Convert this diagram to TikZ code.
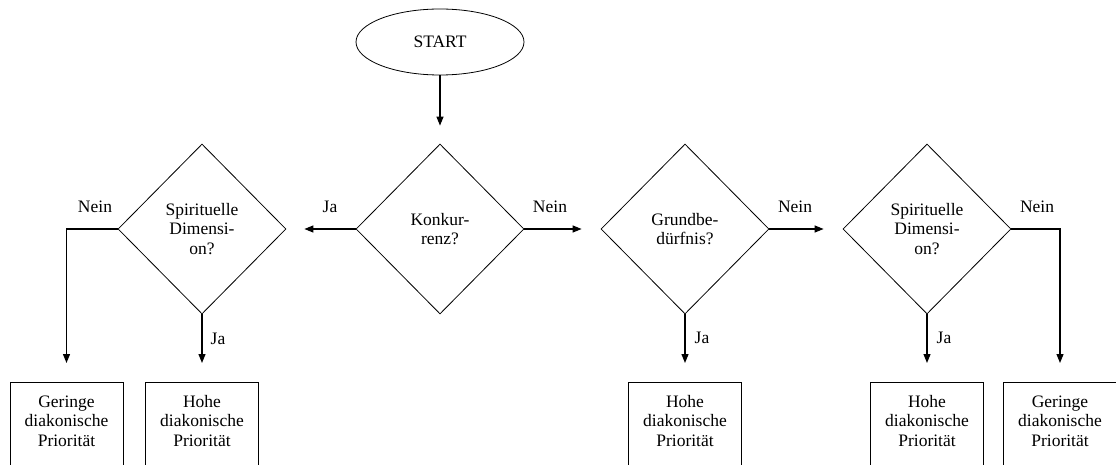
\documentclass[tikz,border=0pt]{standalone}
\usepackage{fontspec}
\setmainfont{Liberation Serif}
\usetikzlibrary{arrows.meta,shapes.geometric}

\newcommand{\flowfont}{\fontsize{17.5}{19.5}\selectfont}

\tikzset{
  startnode/.style={ellipse, draw, line width=0.8pt, minimum width=168pt, minimum height=66pt, inner sep=0pt, font=\flowfont},
  decision/.style={diamond, draw, line width=0.8pt, minimum width=168pt, minimum height=170pt, inner sep=0pt, align=center, font=\flowfont},
  prio/.style={rectangle, draw, line width=0.8pt, anchor=north, minimum width=113pt, text width=108pt, align=center, inner xsep=2pt, inner ysep=13pt, text height=12pt, text depth=100pt, font=\flowfont},
  arr/.style={-{Triangle[length=9pt,width=7pt]}, line width=1.2pt},
  lbl/.style={font=\flowfont}
}

\begin{document}
\begin{tikzpicture}[x=1pt, y=-1pt]
\useasboundingbox (0,0) rectangle (1116,465);
\clip (0,0) rectangle (1116,465);
% start and first question
\node[startnode] (start) at (440,42) {START};
\node[decision] (konk) at (440,229) {Konkur-\\renz?};
% decisions
\node[decision] (spir1) at (202,229) {Spirituelle\\Dimensi-\\on?};
\node[decision] (grund) at (685,229) {Grundbe-\\dürfnis?};
\node[decision] (spir2) at (927,229) {Spirituelle\\Dimensi-\\on?};
% result boxes
\node[prio] (gering1) at (66.5,382) {Geringe\\diakonische\\Priorität};
\node[prio] (hoch1) at (202,382) {Hohe\\diakonische\\Priorität};
\node[prio] (hoch2) at (685,382) {Hohe\\diakonische\\Priorität};
\node[prio] (hoch3) at (927,382) {Hohe\\diakonische\\Priorität};
\node[prio] (gering2) at (1060,382) {Geringe\\diakonische\\Priorität};
% connectors
\draw[arr, shorten >=18pt] (start.south) -- (konk.north);
\draw[arr, shorten >=18pt] (konk.west) -- (spir1.east);
\draw[arr, shorten >=19pt] (konk.east) -- (grund.west);
\draw[arr, shorten >=19pt] (grund.east) -- (spir2.west);
\draw[arr, shorten >=19pt] (spir1.west) -| (gering1.north);
\draw[arr, shorten >=19pt] (spir1.south) -- (hoch1.north);
\draw[arr, shorten >=19pt] (grund.south) -- (hoch2.north);
\draw[arr, shorten >=19pt] (spir2.south) -- (hoch3.north);
\draw[arr, shorten >=19pt] (spir2.east) -| (gering2.north);
% branch labels
\node[lbl] (nein1) at (95,207) {Nein};
\node[lbl] (ja1) at (330,207) {Ja};
\node[lbl] (nein2) at (550,207) {Nein};
\node[lbl] (ja2) at (218,339) {Ja};
\node[lbl] (ja3) at (702,338) {Ja};
\node[lbl] (nein3) at (795,207) {Nein};
\node[lbl] (ja4) at (944,338) {Ja};
\node[lbl] (nein4) at (1037,207) {Nein};
\end{tikzpicture}
\end{document}
